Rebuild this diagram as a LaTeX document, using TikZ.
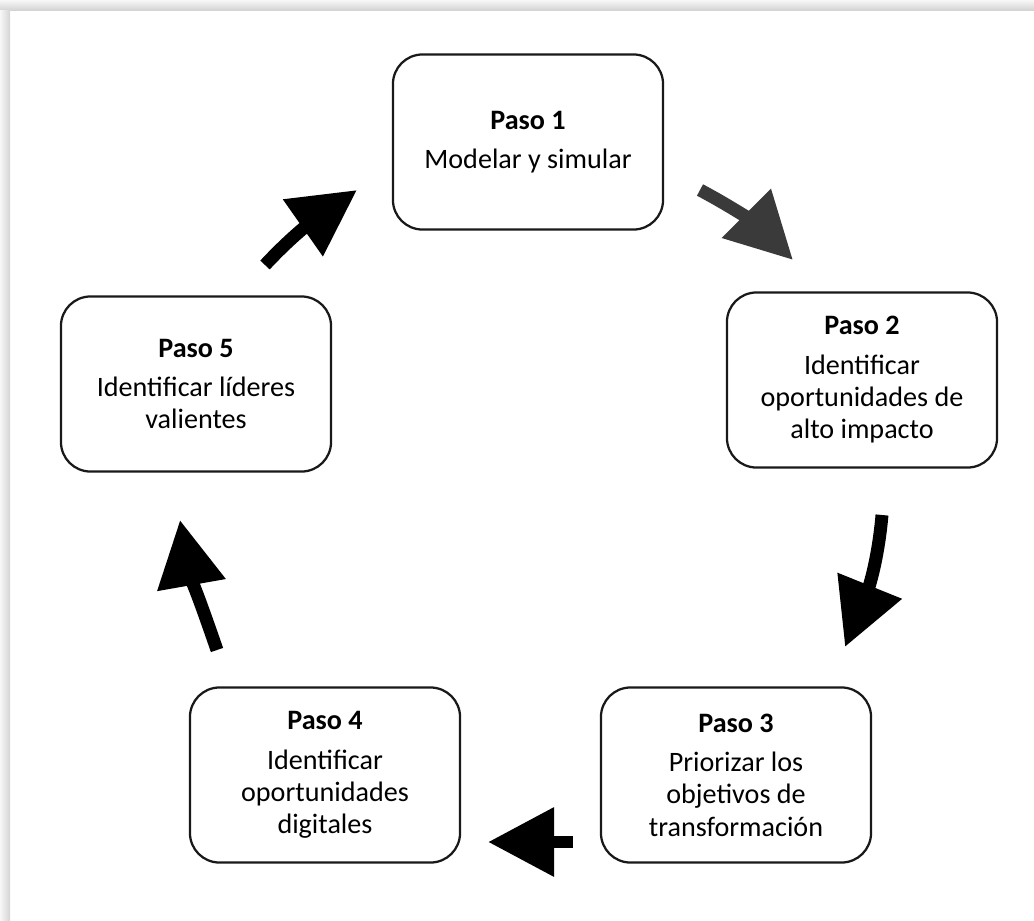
\documentclass[tikz,border=0pt]{standalone}
\usepackage{fontspec}
\setmainfont{Carlito}
\usepackage{tikz}
\usetikzlibrary{arrows.meta,positioning,calc}
\definecolor{FrameGray}{HTML}{D4D4D4}
\definecolor{ArrGray}{HTML}{3A3A3A}

\begin{document}
\begin{tikzpicture}[x=0.025cm,y=0.025cm,
  box/.style={draw=black!90,line width=1.6pt,rounded corners=21pt,align=center,
    minimum width=6.75cm,minimum height=4.375cm,inner sep=4pt,
    font=\fontsize{20}{23}\selectfont},
  arr/.style={line width=9.2pt,-{Triangle[length=47pt,width=47pt]}}]
\useasboundingbox (0,0) rectangle (1034,-921);
% screenshot shadow
\fill[top color=gray!6,bottom color=FrameGray] (0,0) rectangle (1034,-10);
\fill[left color=gray!6,right color=FrameGray] (0,-10) rectangle (10,-921);
\node[box] (p1) at (528,-142) {\textbf{Paso 1}\\[5pt]Modelar y simular};
\node[box] (p2) at (862,-380) {\textbf{Paso 2}\\[5pt]Identificar\\oportunidades de\\alto impacto};
\node[box] (p3) at (736,-775) {\textbf{Paso 3}\\[5pt]Priorizar los\\objetivos de\\transformación};
\node[box] (p4) at (325,-775) {\textbf{Paso 4}\\[5pt]Identificar\\oportunidades\\digitales};
\node[box] (p5) at (196,-384) {\textbf{Paso 5}\\[5pt]Identificar líderes\\valientes};
% arrow ends
\coordinate (a1s) at (700,-190); \coordinate (a1e) at (793,-260);
\coordinate (a2s) at (882,-515); \coordinate (a2e) at (845,-647);
\coordinate (a3s) at (573,-842); \coordinate (a3e) at (488,-842);
\coordinate (a4s) at (217,-650); \coordinate (a4e) at (180,-520);
\coordinate (a5s) at (265,-265); \coordinate (a5e) at (357,-190);
\draw[arr,ArrGray] (a1s) to[out=-28,in=135] (a1e);
\draw[arr] (a2s) to[out=-95,in=68] (a2e);
\draw[arr] (a3s) -- (a3e);
\draw[arr] (a4s) to[out=109,in=-80] (a4e);
\draw[arr] (a5s) to[out=47,in=-145] (a5e);
\end{tikzpicture}
\end{document}
